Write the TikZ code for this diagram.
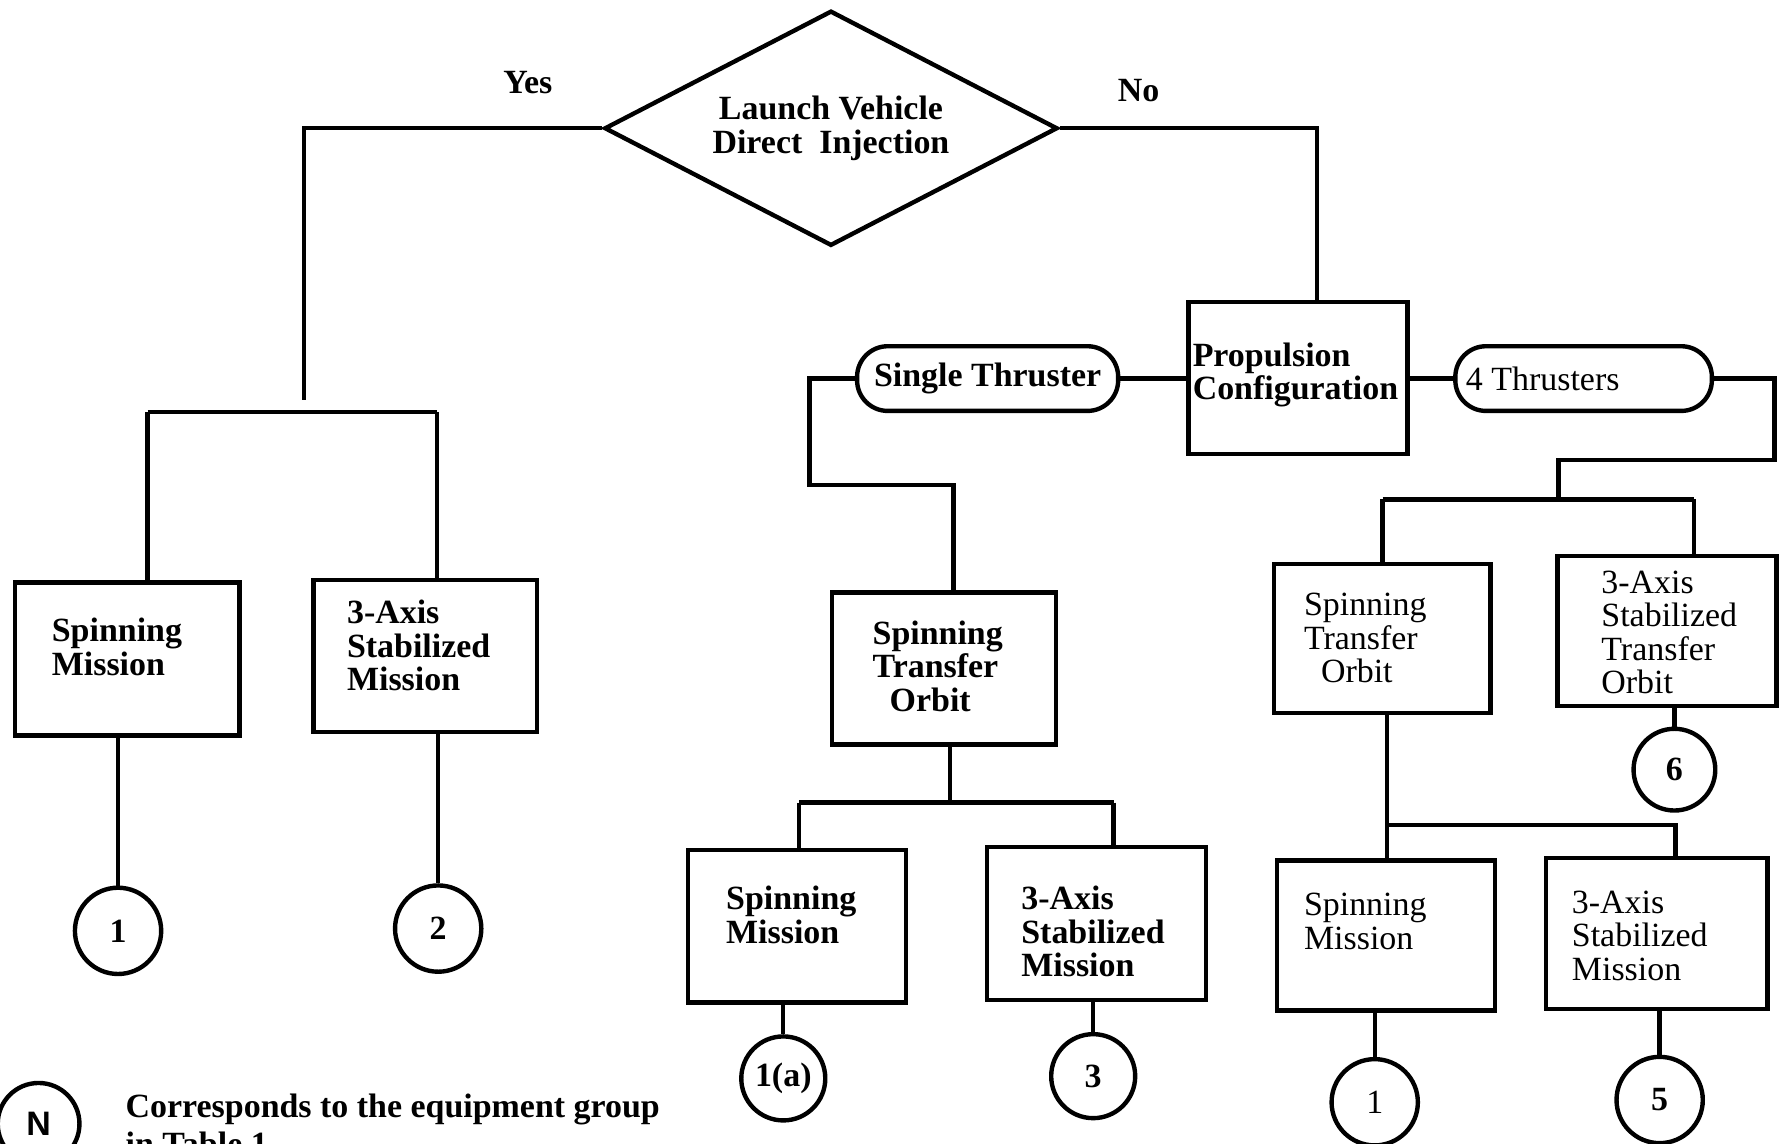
\documentclass[tikz,border=0pt]{standalone}
\usepackage{fontspec}
\setmainfont{Liberation Serif}
\newfontfamily\legsans{Liberation Sans}
\usetikzlibrary{shapes.geometric}
\begin{document}
\begin{tikzpicture}[x=0.01cm,y=-0.01cm,
  ln/.style={line width=1.1pt},
  box/.style={draw,line width=1.1pt,rectangle,inner sep=0pt},
  sz/.style 2 args={minimum width=#1*0.01cm, minimum height=#2*0.01cm},
  pill/.style={draw,line width=1.1pt,rounded corners=0.27cm,inner sep=0pt},
  circ/.style={draw,line width=1.1pt,circle,inner sep=0pt,minimum size=#1*0.01cm},
  bt/.style={font=\fontsize{8.5}{8.4}\selectfont\bfseries, inner sep=0pt},
  rt/.style={font=\fontsize{8.5}{8.4}\selectfont, inner sep=0pt},
  tx/.style={align=left, anchor=north west},
]
\useasboundingbox (0,0) rectangle (1568,1007);

% decision
\node[draw, line width=1.1pt, diamond, inner sep=0pt, aspect=1.93,
      minimum width=3.99cm, minimum height=2.07cm, bt, align=center]
      (dia) at (732,113) {Launch Vehicle\\Direct\ \ Injection};
\node[bt] (yes) at (465,73) {Yes};
\node[bt] (no) at (1003,80) {No};

% ---------- Yes branch ----------
\node[box, sz={198}{135}] (b1) at (112,580.5) {};
\node[box, sz={197}{134}] (b2) at (374.5,578) {};
\node[bt,tx] (tb1) at (45,544) {Spinning\\Mission};
\node[bt,tx] (tb2) at (305,528) {3-Axis\\Stabilized\\Mission};
\coordinate (yj) at (268,352);
\coordinate (yl) at (130,363);
\coordinate (yr) at (385,363);
\draw[ln] (dia.west) -| (yj);
\draw[ln] (yl) -- (yr);
\draw[ln] (yl) -- (yl |- b1.north);
\draw[ln] (yr) -- (yr |- b2.north);
\node[circ=76, bt] (c1) at (104,820) {1};
\node[circ=76, bt] (c2) at (386,818) {2};
\draw[ln] (c1.north |- b1.south) -- (c1.north);
\draw[ln] (c2.north |- b2.south) -- (c2.north);

% ---------- No branch ----------
\node[box, sz={193}{134}] (prop) at (1143.5,333) {};
\node[bt,tx] (tprop) at (1050,301) {Propulsion\\Configuration};
\coordinate (pn) at (1160,266);
\draw[ln] (dia.east) -| (pn);

% single thruster
\node[pill, sz={230}{57}, bt] (st) at (870,333.5) {Single Thruster};
\draw[ln] (st.east) -- (prop.west |- st.east);
\node[box, sz={197}{134}] (sto) at (831.5,589) {};
\node[bt,tx] (tsto) at (768,546) {Spinning\\Transfer\\\hspace*{0.15cm}Orbit};
\coordinate (a1) at (713,427);
\coordinate (a2) at (840,427);
\draw[ln] (st.west) -| (a1) -- (a2) -- (a2 |- sto.north);
\node[box, sz={192}{134}] (sm2) at (702,816) {};
\node[box, sz={193}{135}] (ax2) at (966,813.5) {};
\node[bt,tx] (tsm2) at (639,780) {Spinning\\Mission};
\node[bt,tx] (tax2) at (899,780) {3-Axis\\Stabilized\\Mission};
\coordinate (h2m) at (837,707);
\coordinate (h2l) at (704,707);
\coordinate (h2r) at (981,707);
\draw[ln] (h2m |- sto.south) -- (h2m);
\draw[ln] (h2l) -- (h2r);
\draw[ln] (h2l) -- (h2l |- sm2.north);
\draw[ln] (h2r) -- (h2r |- ax2.north);
\node[circ=74, bt] (c1a) at (690,950) {1(a)};
\node[circ=74, bt] (c3) at (963,948) {3};
\draw[ln] (c1a.north |- sm2.south) -- (c1a.north);
\draw[ln] (c3.north |- ax2.south) -- (c3.north);

% four thrusters
\node[pill, sz={226}{57}, rt] (ft) at (1395,333.5) {4 Thrusters\hspace*{0.72cm}};
\draw[ln] (prop.east |- ft.west) -- (ft.west);
\coordinate (r1) at (1563,405);
\coordinate (r2) at (1373,405);
\coordinate (r3) at (1373,440);
\coordinate (rl) at (1218,440);
\coordinate (rr) at (1492,440);
\node[box, sz={191}{131}] (sto2) at (1217.5,562.5) {};
\node[box, sz={193}{132}] (ast) at (1468.5,556) {};
\node[rt,tx] (tsto2) at (1148,522) {Spinning\\Transfer\\\hspace*{0.15cm}Orbit};
\node[rt,tx] (tast) at (1410,502) {3-Axis\\Stabilized\\Transfer\\Orbit};
\draw[ln] (ft.east) -| (r1) -- (r2) -- (r3);
\draw[ln] (rl) -- (rr);
\draw[ln] (rl) -- (rl |- sto2.north);
\draw[ln] (rr) -- (rr |- ast.north);
\node[circ=72, bt] (c6) at (1475,678) {6};
\draw[ln] (c6.north |- ast.south) -- (c6.north);

\node[box, sz={192}{132}] (sm3) at (1221,824) {};
\node[box, sz={195}{133}] (ax3) at (1459.5,822.5) {};
\node[rt,tx] (tsm3) at (1148,786) {Spinning\\Mission};
\node[rt,tx] (tax3) at (1384,784) {3-Axis\\Stabilized\\Mission};
\coordinate (q1) at (1222,727);
\coordinate (q2) at (1476,727);
\draw[ln] (q1 |- sto2.south) -- (q1 |- sm3.north);
\draw[ln] (q1) -- (q2) -- (q2 |- ax3.north);
\node[circ=76, rt] (c1r) at (1211,971) {1};
\node[circ=76, bt] (c5) at (1462,969) {5};
\draw[ln] (c1r.north |- sm3.south) -- (c1r.north);
\draw[ln] (c5.north |- ax3.south) -- (c5.north);

% legend
\node[circ=72, font=\legsans\fontsize{8.5}{9}\selectfont\bfseries] (cn) at (34,990) {N};
\node[tx, inner sep=0pt, font=\fontsize{8.5}{9.6}\selectfont\bfseries] (leg) at (110,963) {Corresponds to the equipment group\\in Table 1};
\end{tikzpicture}
\end{document}
